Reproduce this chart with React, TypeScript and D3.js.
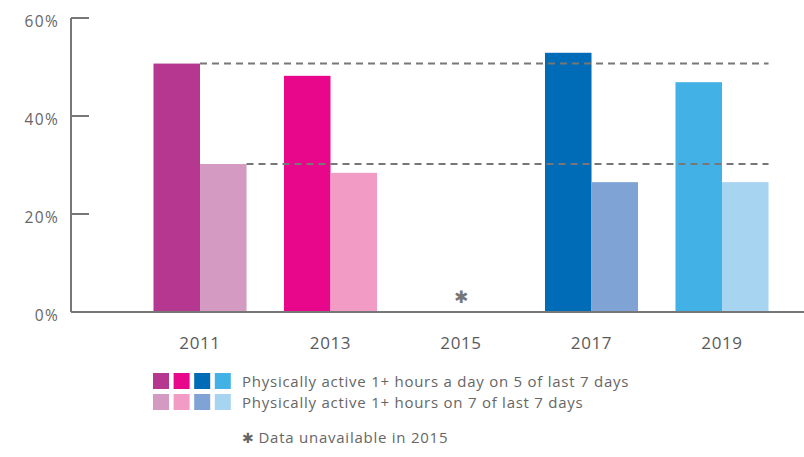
import React from "react";
import * as d3 from "d3";

const years = ["2011", "2013", "2015", "2017", "2019"];
const fiveOfSeven: (number | null)[] = [50.7, 48.2, null, 52.9, 46.9];
const sevenOfSeven: (number | null)[] = [30.2, 28.4, null, 26.5, 26.5];
const darkColors = ["#B5378F", "#E8078B", "#000000", "#006BB6", "#42B2E6"];
const lightColors = ["#D49AC2", "#F29BC4", "#000000", "#7FA3D5", "#A7D4F1"];
const yTicks = [0, 20, 40, 60];
const legendLabels = [
  "Physically active 1+ hours a day on 5 of last 7 days",
  "Physically active 1+ hours on 7 of last 7 days",
];
const footnote = "Data unavailable in 2015";
const referenceLines = [50.7, 30.2];

export default function App() {
  const W = 804;
  const H = 457;
  const axisX = 71;
  const y = d3.scaleLinear().domain([0, 60]).range([312, 18]);
  const x = d3.scaleBand().domain(years).range([134.75, 787.25]).padding(0);
  const groupW = x.bandwidth() * 0.713;
  const barW = groupW / 2;
  const grey = "#777";
  const textColor = "#666";
  const font = "'Open Sans', sans-serif";
  const legendDark = [0, 1, 3, 4].map((i) => darkColors[i]);
  const legendLight = [0, 1, 3, 4].map((i) => lightColors[i]);
  const lastX = (x(years[4]) as number) + x.bandwidth() / 2 + barW;

  return (
    <svg width={W} height={H} style={{ position: "absolute", left: 0, top: 0 }} fontFamily={font}>
      {/* bars */}
      {years.map((yr, i) => {
        const cx = (x(yr) as number) + x.bandwidth() / 2;
        const a = fiveOfSeven[i];
        const b = sevenOfSeven[i];
        return (
          <g key={yr}>
            {a != null && (
              <rect x={cx - barW} y={y(a)} width={barW} height={y(0) - y(a)} fill={darkColors[i]} />
            )}
            {b != null && (
              <rect x={cx} y={y(b)} width={barW} height={y(0) - y(b)} fill={lightColors[i]} />
            )}
            <text x={cx} y={349} textAnchor="middle" fontSize={17} letterSpacing={0.6} fill="#5a5a5a">
              {yr}
            </text>
            {a == null && (
              <text x={cx} y={303} textAnchor="middle" fontSize={17} fill={grey} fontFamily="DejaVu Sans">
                ✱
              </text>
            )}
          </g>
        );
      })}
      {/* reference dashed lines */}
      {referenceLines.map((v, k) => {
        const start = (x(years[0]) as number) + x.bandwidth() / 2 + (k === 0 ? 0 : barW);
        return (
          <line
            key={k}
            x1={start}
            x2={lastX}
            y1={y(v)}
            y2={y(v)}
            stroke={grey}
            strokeWidth={2}
            strokeDasharray="7,5"
          />
        );
      })}
      {/* y axis */}
      <line x1={axisX} x2={axisX} y1={y(60)} y2={y(0)} stroke={grey} strokeWidth={2} />
      {yTicks.map((t) => (
        <g key={t}>
          <line x1={axisX} x2={axisX + 18} y1={y(t)} y2={y(t)} stroke={grey} strokeWidth={2} />
          <text x={59} y={y(t) + 8.5} textAnchor="end" fontSize={15.5} letterSpacing={1.3} fill={textColor}>
            {t}%
          </text>
        </g>
      ))}
      <line x1={axisX} x2={W} y1={y(0)} y2={y(0)} stroke={grey} strokeWidth={2} />
      {/* legend */}
      {legendDark.map((c, i) => (
        <rect key={"d" + i} x={153 + i * 20.6} y={373} width={16} height={16} fill={c} />
      ))}
      {legendLight.map((c, i) => (
        <rect key={"l" + i} x={153 + i * 20.6} y={394} width={16} height={16} fill={c} />
      ))}
      <text x={242} y={387} fontSize={15} letterSpacing={0.75} fill={textColor}>
        {legendLabels[0]}
      </text>
      <text x={242} y={408} fontSize={15} letterSpacing={0.75} fill={textColor}>
        {legendLabels[1]}
      </text>
      <text x={242} y={443} fontSize={15} letterSpacing={0.75} fill={textColor}>
        <tspan fontFamily="DejaVu Sans" fontSize={14}>✱</tspan>
        <tspan dx={4}>{footnote}</tspan>
      </text>
    </svg>
  );
}
